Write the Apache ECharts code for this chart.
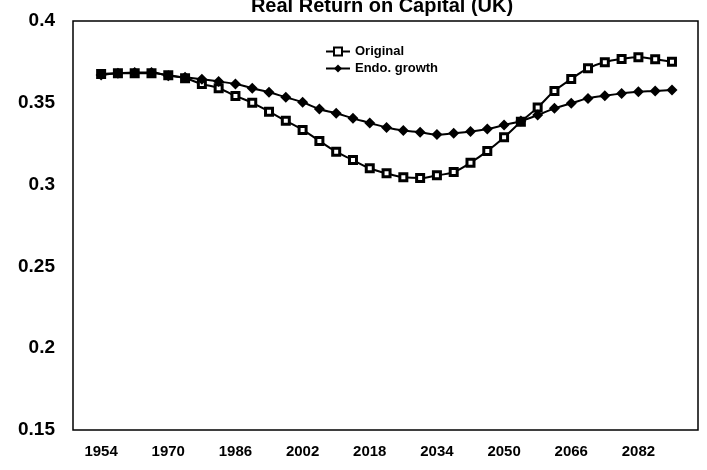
<!DOCTYPE html>
<html>
<head>
<meta charset="utf-8">
<script src="https://cdn.jsdelivr.net/npm/echarts@6/dist/echarts.min.js"></script>
<style>
	html, body { margin:0; padding:0; background:#fff; }
	#chart { width:707px; height:470px; }
</style>
</head>
<body>
<div id="chart"></div>
<script>
// years, every 4 years from 1954
var years = [1954,1958,1962,1966,1970,1974,1978,1982,1986,1990,1994,1998,2002,2006,2010,2014,2018,2022,2026,2030,2034,2038,2042,2046,2050,2054,2058,2062,2066,2070,2074,2078,2082,2086,2090];
var originalValues = [0.3676,0.368,0.368,0.368,0.3668,0.365,0.3615,0.3589,0.3542,0.350,0.3446,0.339,0.3334,0.3267,0.3201,0.315,0.310,0.3069,0.3045,0.304,0.3057,0.3077,0.3134,0.3205,0.3289,0.3384,0.3472,0.3572,0.3645,0.3711,0.3748,0.3768,0.3778,0.3766,0.3751];
var endoValues = [0.367,0.368,0.3685,0.3685,0.3666,0.3656,0.3644,0.363,0.3615,0.3589,0.3564,0.3534,0.3503,0.3462,0.3436,0.3405,0.3377,0.3349,0.333,0.332,0.3306,0.3314,0.3324,0.334,0.3364,0.3389,0.3425,0.3466,0.3497,0.3527,0.3543,0.3557,0.3568,0.3572,0.3578];
var xTickLabels = [1954,1970,1986,2002,2018,2034,2050,2066,2082];
var yTickLabels = [0.15,0.2,0.25,0.3,0.35,0.4];

function pairs(vals){
	var out = [];
	for (var i = 0; i < years.length; i++){
		out.push([years[i], vals[i]]);
	}
	return out;
}

var chart = echarts.init(document.getElementById('chart'));
var font = 'Liberation Sans, Arial, sans-serif';

var option = {
	animation:false,
	title:{
		text:'Real Return on Capital (UK)',
		left:377, top:-9,
		textAlign:'center',
		textStyle:{ fontFamily:font, fontSize:20, fontWeight:'bold', color:'#000' }
	},
	legend:{
		orient:'vertical',
		left:320, top:40,
		itemGap:4,
		itemWidth:24, itemHeight:10,
		textStyle:{ fontFamily:font, fontSize:13, fontWeight:'bold', color:'#000' },
		data:['Original','Endo. growth']
	},
	grid:{
		left:73, right:9, top:21, bottom:40,
		show:true, borderColor:'#000', borderWidth:1.5,
		containLabel:false
	},
	xAxis:{
		type:'value',
		min:1947.3, max:2096.2,
		splitLine:{ show:false },
		axisLine:{ show:false },
		axisTick:{ show:false },
		axisLabel:{
			customValues:xTickLabels,
			margin:14,
			formatter:function(v){ return String(v); },
			fontFamily:font, fontSize:15, fontWeight:'bold', color:'#000'
		}
	},
	yAxis:{
		type:'value',
		min:0.15, max:0.4, interval:0.05,
		splitLine:{ show:false },
		axisLine:{ show:false },
		axisTick:{ show:false },
		axisLabel:{
			customValues:yTickLabels,
			margin:18,
			padding:[8,0,0,0],
			fontFamily:font, fontSize:19, fontWeight:'bold', color:'#000'
		}
	},
	series:[{
		name:'Original',
		type:'line',
		smooth:true,
		data:pairs(originalValues),
		symbol:'rect', symbolSize:7,
		lineStyle:{ color:'#000', width:2 },
		itemStyle:{ color:'#fff', borderColor:'#000', borderWidth:3 }
	},{
		name:'Endo. growth',
		type:'line',
		smooth:true,
		data:pairs(endoValues),
		symbol:'diamond', symbolSize:11,
		lineStyle:{ color:'#000', width:2 },
		itemStyle:{ color:'#000' }
	}]
};
chart.setOption(option);
</script>
</body>
</html>
